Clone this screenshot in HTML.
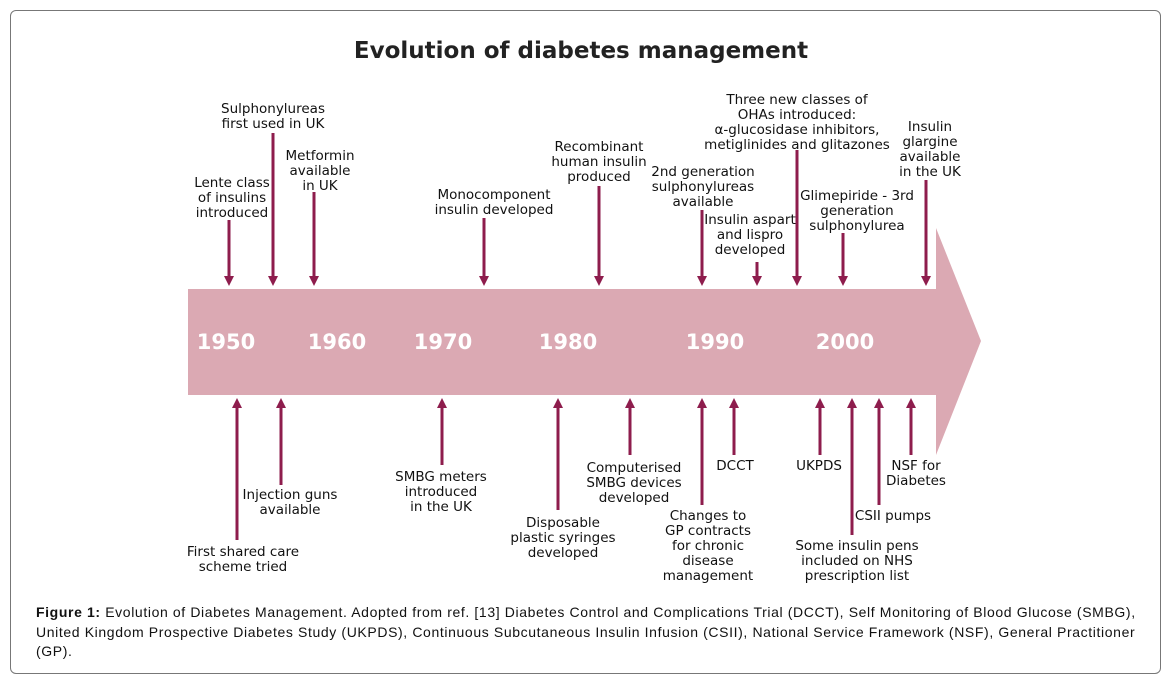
<!DOCTYPE html>
<html><head><meta charset="utf-8"><style>
body{margin:0;background:#fff;width:1167px;height:681px;overflow:hidden;font-family:"Liberation Sans",sans-serif}
#frame{position:absolute;left:10px;top:10px;width:1149px;height:662px;border:1px solid #777;border-radius:6px}
#cap{position:absolute;left:36px;top:603px;width:1118px;font-size:14px;letter-spacing:0.62px;line-height:19.5px;color:#111}
svg{position:absolute;left:0;top:0}
</style></head><body>
<div id="frame"></div>
<svg id="chart" width="1167" height="681">
<text x="581" y="58" text-anchor="middle" font-family="DejaVu Sans, sans-serif" font-weight="bold" font-size="23" fill="#222">Evolution of diabetes management</text>
<polygon points="188,289 936,289 936,228 981,341 936,455 936,395 188,395" fill="#dba9b3"/>
<g id="years"></g><g id="events"></g>
</svg>
<div id="cap"><b>Figure 1:</b> Evolution of Diabetes Management. Adopted from ref. [13] Diabetes Control and Complications Trial (DCCT), Self Monitoring of Blood Glucose (SMBG), United Kingdom Prospective Diabetes Study (UKPDS), Continuous Subcutaneous Insulin Infusion (CSII), National Service Framework (NSF), General Practitioner (GP).</div>
<script>
const yearLabels=["1950","1960","1970","1980","1990","2000"];
const yearX=[226,337,443,568,715,845];
const topEvents=[
["lente",229,220,232,187,["Lente class","of insulins","introduced"]],
["sulphonylureas",273,133,273,113,["Sulphonylureas","first used in UK"]],
["metformin",314,192,320,160,["Metformin","available","in UK"]],
["monocomponent",484,218,494,199,["Monocomponent","insulin developed"]],
["recombinant",599,186,599,151,["Recombinant","human insulin","produced"]],
["second-gen",702,210,703,176,["2nd generation","sulphonylureas","available"]],
["aspart",757,262,750,224,["Insulin aspart","and lispro","developed"]],
["ohas",797,150,797,104,["Three new classes of","OHAs introduced:","α-glucosidase inhibitors,","metiglinides and glitazones"]],
["glimepiride",843,233,857,200,["Glimepiride - 3rd","generation","sulphonylurea"]],
["glargine",926,180,930,131,["Insulin","glargine","available","in the UK"]]];
const botEvents=[
["shared-care",237,540,243,556,["First shared care","scheme tried"]],
["injection-guns",281,485,290,499,["Injection guns","available"]],
["smbg-meters",442,465,441,481,["SMBG meters","introduced","in the UK"]],
["syringes",558,510,563,527,["Disposable","plastic syringes","developed"]],
["computerised",630,455,634,472,["Computerised","SMBG devices","developed"]],
["gp-contracts",702,505,708,520,["Changes to","GP contracts","for chronic","disease","management"]],
["dcct",734,455,735,470,["DCCT"]],
["ukpds",820,455,819,470,["UKPDS"]],
["pens",852,535,857,550,["Some insulin pens","included on NHS","prescription list"]],
["csii",879,505,893,520,["CSII pumps"]],
["nsf",911,455,916,470,["NSF for","Diabetes"]]];
const NS="http://www.w3.org/2000/svg";
const yg=document.getElementById('years'),eg=document.getElementById('events');
function mk(t,a,p){const e=document.createElementNS(NS,t);for(const k in a)e.setAttribute(k,a[k]);p.appendChild(e);return e;}
yearLabels.forEach((y,i)=>{const t=mk('text',{x:yearX[i],y:349,'text-anchor':'middle','font-family':'DejaVu Sans, sans-serif','font-weight':'bold','font-size':'21',fill:'#fff'},yg);t.textContent=y;

});
function ev(e,down){const [n,x,y0,lx,ly,lines]=e;const g=mk('g',{},eg);


const c='#8e1d4d';
if(down){mk('line',{x1:x,y1:y0,x2:x,y2:278,stroke:c,'stroke-width':3},g);mk('polygon',{points:`${x-5},276 ${x+5},276 ${x},286`,fill:c},g);}
else{mk('line',{x1:x,y1:y0,x2:x,y2:406,stroke:c,'stroke-width':3},g);mk('polygon',{points:`${x-5},408 ${x+5},408 ${x},398`,fill:c},g);}
lines.forEach((s,i)=>{const t=mk('text',{x:lx,y:ly+i*15,'text-anchor':'middle','font-family':'DejaVu Sans, sans-serif','font-size':'13.5',fill:'#111'},g);t.textContent=s;});}
topEvents.forEach(e=>ev(e,true));botEvents.forEach(e=>ev(e,false));
</script>
</body></html>
